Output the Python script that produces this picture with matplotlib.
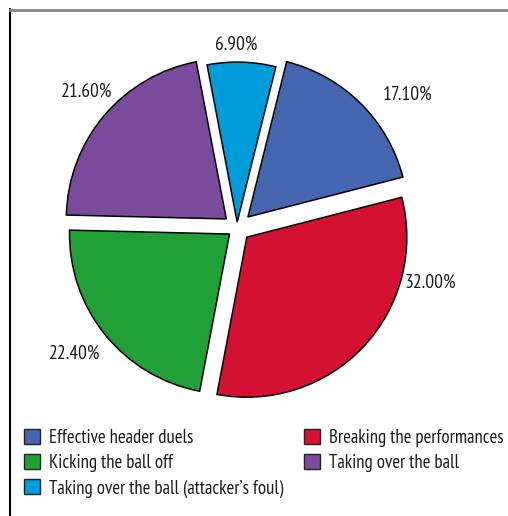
import matplotlib.pyplot as plt
from matplotlib.patches import Patch
from matplotlib.lines import Line2D

plt.rcParams['font.family'] = ['PT Sans Narrow', 'DejaVu Sans']

# -- data
categories = ['Effective header duels', 'Breaking the performances', 'Kicking the ball off',
              'Taking over the ball', "Taking over the ball (attacker\u2019s foul)"]
shares = [17.10, 32.00, 22.40, 21.60, 6.90]
colors = ['#4566ae', '#d31133', '#21a038', '#7b4b9b', '#009bd9']

# -- layout
explode = [0.097, 0.084, 0.06, 0.0875, 0.037]
# label centres (x, y) in pie radius units, placed like the original
label_xy = [(1.069, 0.831), (1.206, -0.344), (-1.013, -0.788), (-0.9375, 0.85), (-0.006, 1.144)]

W, H = 508, 516
fig = plt.figure(figsize=(W / 100, H / 100), dpi=100)

# pie centre ~ (237, 228) px, radius ~160 px
cx, cy, r_px, half = 237, 228, 160, 215
ax = fig.add_axes([(cx - half) / W, 1 - (cy + half) / H, 2 * half / W, 2 * half / H])

wedges, _, autotexts = ax.pie(
    shares, colors=colors, startangle=76, counterclock=False,
    explode=explode, autopct='%.2f%%', pctdistance=1.2,
    wedgeprops=dict(edgecolor='black', linewidth=1.1),
    textprops=dict(fontsize=14, color='#1a1a1a'))

for t, (x, y) in zip(autotexts, label_xy):
    t.set_position((x, y))
    t.set_ha('center')
    t.set_va('center')

lim = half / r_px
ax.set_xlim(-lim, lim)
ax.set_ylim(-lim, lim)
ax.set_aspect('equal')
ax.axis('off')

# legend: two columns (left: blue/green/cyan, right: red/purple)
def make_handles(idx):
    return [Patch(facecolor=colors[i], edgecolor='#222222', linewidth=1.0, label=categories[i]) for i in idx]

leg_kw = dict(loc='upper left', frameon=False, fontsize=13.5, handlelength=0.85, handleheight=0.85,
              handletextpad=0.5, labelspacing=0.38, borderaxespad=0, borderpad=0)
leg1 = fig.legend(handles=make_handles([0, 2, 4]), bbox_to_anchor=(24 / W, 1 - 429 / H), **leg_kw)
leg2 = fig.legend(handles=make_handles([1, 3]), bbox_to_anchor=(304 / W, 1 - 429 / H), **leg_kw)
for leg in (leg1, leg2):
    for txt in leg.get_texts():
        txt.set_color('#1a1a1a')

# outer frame lines (left and top only)
fig.add_artist(Line2D([10 / W, 10 / W], [0, 1 - 9 / H], color='black', linewidth=1.5))
fig.add_artist(Line2D([10 / W, 1], [1 - 9.5 / H, 1 - 9.5 / H], color='#888888', linewidth=2))

fig.savefig('out.png', dpi=100)
